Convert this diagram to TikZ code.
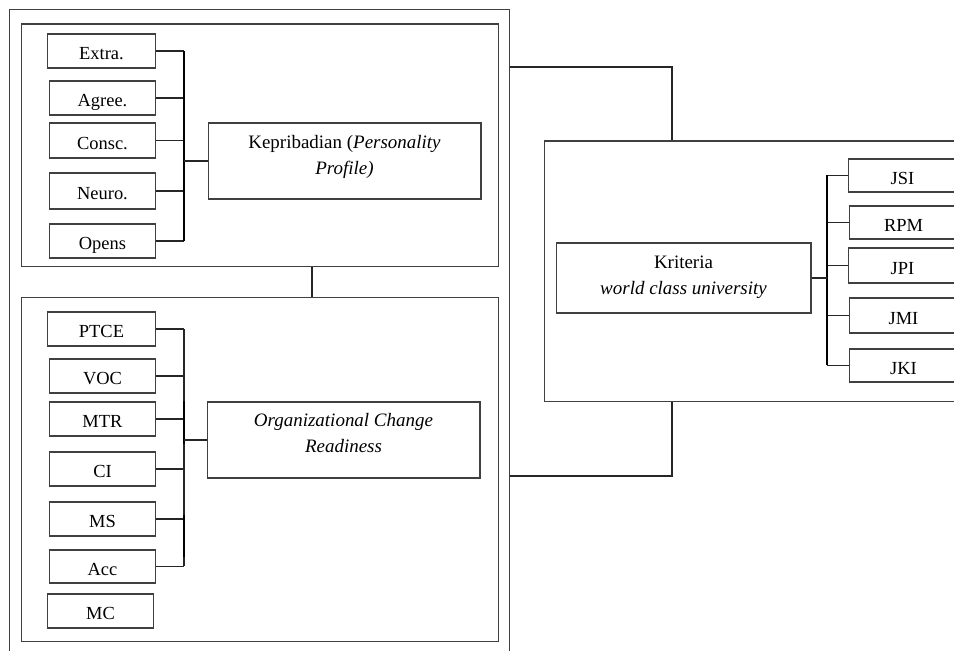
\documentclass[tikz,border=0pt]{standalone}
\usepackage{fontspec}
\setmainfont{Liberation Serif}
\usetikzlibrary{calc}

\begin{document}
\begin{tikzpicture}[
  x=0.02cm, y=-0.02cm,
  frame/.style = {draw=black!75, line width=0.6pt, inner sep=0pt},
  sbox/.style  = {draw=black!75, line width=0.6pt, minimum width=2.12cm,
                  minimum height=0.68cm, inner sep=0pt,
                  text height=1.1em, text depth=0.1em,
                  font=\fontsize{10.5}{12}\selectfont},
  mbox/.style  = {draw=black!75, line width=0.6pt, minimum width=5.46cm,
                  minimum height=1.52cm, align=center, inner sep=2pt,
                  font=\fontsize{10.8}{14.5}\selectfont},
  link/.style  = {line width=0.6pt, draw=black!85},
  bus/.style   = {line width=1.1pt, draw=black},
]
\useasboundingbox (0,0) rectangle (954,651);
\clip (0,0) rectangle (954,651);
% frames
\node[frame, minimum width=10.02cm, minimum height=13.01cm] (left) at (259.5,334.75) {};
\node[frame, minimum width=9.56cm, minimum height=4.86cm] (perbox) at (260,145.5) {};
\node[frame, minimum width=9.56cm, minimum height=6.9cm] (ocrbox) at (260,469.5) {};
\node[frame, minimum width=9.12cm, minimum height=5.22cm] (wcubox) at (772,271.5) {};
% personality profile
\node[sbox, anchor=east, minimum width=2.16cm] (extra) at (156,51) {Extra.};
\node[sbox, anchor=east] (agree) at (156,98) {Agree.};
\node[sbox, anchor=east, minimum height=0.7cm] (consc) at (156,140.5) {Consc.};
\node[sbox, anchor=east, minimum height=0.72cm] (neuro) at (156,191) {Neuro.};
\node[sbox, anchor=east] (opens) at (156,241) {Opens};
\node[mbox, text depth=7pt] (kep) at (344.5,161)
    {Kepribadian (\textit{Personality}\\ \textit{Profile)}};
\coordinate (pbus) at (184,0);
\foreach \n in {extra,agree,consc,neuro,opens}
  \draw[link] (\n.east) -- (\n.east -| pbus);
\draw[bus] (extra.east -| pbus) -- (opens.east -| pbus);
\draw[link] (kep.west) -- (kep.west -| pbus);
% change readiness
\node[sbox, anchor=east, minimum width=2.16cm] (ptce) at (156,329) {PTCE};
\node[sbox, anchor=east] (voc) at (156,376) {VOC};
\node[sbox, anchor=east] (mtr) at (156,419) {MTR};
\node[sbox, anchor=east] (ci) at (156,469) {CI};
\node[sbox, anchor=east] (ms) at (156,519) {MS};
\node[sbox, anchor=east, minimum height=0.66cm] (acc) at (156,566.5) {Acc};
\node[sbox, anchor=east] (mc) at (154,611) {MC};
\node[mbox, text depth=8pt] (ocr) at (343.5,440)
    {\textit{Organizational Change}\\ \textit{Readiness}};
\coordinate (obus) at (184,0);
\foreach \n in {ptce,voc,mtr,ci,ms,acc}
  \draw[link] (\n.east) -- (\n.east -| obus);
\draw[link] (ptce.east -| obus) -- (acc.east -| obus);
\draw[bus] (mtr.north -| obus) -- ++(0,43);
\draw[bus] ($(ms.east -| obus)+(0,-4)$) -- ++(0,42);
\draw[link] (ocr.west) -- (ocr.west -| obus);
\coordinate (mid) at (312,0);
\draw[link] (perbox.south -| mid) -- (ocrbox.north -| mid);
% criteria
\node[mbox, minimum width=5.1cm, minimum height=1.4cm, text depth=3pt] (kri) at (683.5,278)
    {Kriteria\\ \textit{world class university}};
\node[sbox, anchor=west, minimum width=2.16cm, minimum height=0.66cm] (jsi) at (848,175.5) {JSI};
\node[sbox, anchor=west, minimum width=2.16cm, minimum height=0.66cm] (rpm) at (849,222.5) {RPM};
\node[sbox, anchor=west, minimum width=2.16cm, minimum height=0.7cm] (jpi) at (848,265.5) {JPI};
\node[sbox, anchor=west, minimum width=2.16cm, minimum height=0.7cm] (jmi) at (849,315.5) {JMI};
\node[sbox, anchor=west, minimum width=2.16cm, minimum height=0.66cm] (jki) at (849,365.5) {JKI};
\coordinate (kbus) at (827,0);
\foreach \n in {jsi,rpm,jpi,jmi,jki}
  \draw[link] (\n.west) -- (\n.west -| kbus);
\draw[bus, line width=0.9pt] (jsi.west -| kbus) -- (jki.west -| kbus);
\draw[link] (kri.east) -- (kri.east -| kbus);
% joins between the frames
\coordinate (jn) at (672,67);
\coordinate (js) at (672,476);
\draw[link] (left.east |- jn) -| (wcubox.north -| jn);
\draw[link] (left.east |- js) -| (wcubox.south -| js);
\end{tikzpicture}
\end{document}
